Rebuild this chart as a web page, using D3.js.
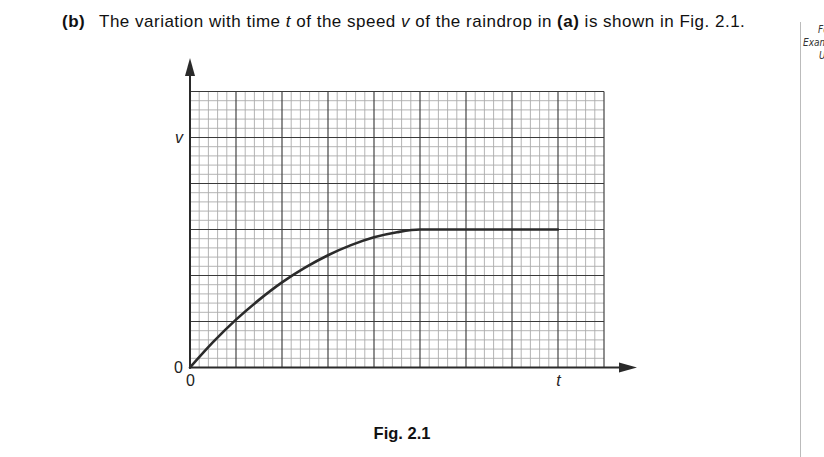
<!DOCTYPE html>
<html>
<head>
<meta charset="utf-8">
<script src="https://cdn.jsdelivr.net/npm/d3@7"></script>
<style>
  html, body { margin: 0; padding: 0; background: #fff; }
  svg { display: block; font-family: "Liberation Sans", Arial, sans-serif; }
</style>
</head>
<body>
<svg id="chart" width="824" height="457"></svg>
<script>
// ---- data (grid units: 1 = one major square) ----
const timeValues  = [0, 0.5, 1, 1.5, 2, 2.5, 3, 3.5, 4, 4.5, 5, 6, 7, 8];
const speedValues = [0, 0.55, 1.04, 1.47, 1.85, 2.17, 2.44, 2.66, 2.83, 2.94, 3, 3, 3, 3];
const xTickValues = [0, 8];
const xTickLabels = ["0", "t"];
const yTickValues = [0, 5];
const yTickLabels = ["0", "v"];
const xDomain = [0, 9];
const yDomain = [0, 6];

const svg = d3.select("#chart");

const x = d3.scaleLinear().domain(xDomain).range([190, 604]);
const y = d3.scaleLinear().domain(yDomain).range([367.5, 91.5]);

// ---- title ----
const title = svg.append("text").attr("x", 62).attr("y", 27).attr("font-size", 17)
  .attr("letter-spacing", 0.5).attr("fill", "#111");
title.append("tspan").attr("font-weight", "bold").text("(b)");
title.append("tspan").attr("x", 99).text("The variation with time ");
title.append("tspan").attr("font-style", "italic").text("t");
title.append("tspan").text(" of the speed ");
title.append("tspan").attr("font-style", "italic").text("v");
title.append("tspan").text(" of the raindrop in ");
title.append("tspan").attr("font-weight", "bold").text("(a)");
title.append("tspan").text(" is shown in Fig. 2.1.");

// ---- examiner margin ----
svg.append("line").attr("x1", 800.5).attr("x2", 800.5).attr("y1", 22).attr("y2", 457)
  .attr("stroke", "#bbb").attr("stroke-width", 1);
const margin = svg.append("g").attr("font-size", 10).attr("font-style", "italic").attr("fill", "#333")
  .attr("font-family", "'Liberation Sans Narrow', 'DejaVu Sans Condensed', sans-serif");
margin.append("text").attr("x", 818).attr("y", 33).text("For");
margin.append("text").attr("x", 803).attr("y", 46).text("Examiner's");
margin.append("text").attr("x", 819).attr("y", 59).text("Use");

// ---- grid ----
const grid = svg.append("g");
const minorX = d3.range(0, 9.001, 0.2).filter(d => Math.abs(d - Math.round(d)) > 1e-6);
const minorY = d3.range(0, 6.001, 0.2).filter(d => Math.abs(d - Math.round(d)) > 1e-6);
grid.selectAll(".mx").data(minorX).join("line")
  .attr("x1", d => x(d)).attr("x2", d => x(d)).attr("y1", y(0)).attr("y2", y(6))
  .attr("stroke", "#ababab").attr("stroke-width", 0.9);
grid.selectAll(".my").data(minorY).join("line")
  .attr("y1", d => y(d)).attr("y2", d => y(d)).attr("x1", x(0)).attr("x2", x(9))
  .attr("stroke", "#ababab").attr("stroke-width", 0.9);
grid.selectAll(".Mx").data(d3.range(1, 10)).join("line")
  .attr("x1", d => x(d)).attr("x2", d => x(d)).attr("y1", y(0)).attr("y2", y(6))
  .attr("stroke", "#444").attr("stroke-width", 1.2);
grid.selectAll(".My").data(d3.range(1, 7)).join("line")
  .attr("y1", d => y(d)).attr("y2", d => y(d)).attr("x1", x(0)).attr("x2", x(9))
  .attr("stroke", "#3a3a3a").attr("stroke-width", 1.2);

// ---- axes ----
const axisColor = "#2a2a2a";
svg.append("line").attr("x1", x(0)).attr("x2", x(0)).attr("y1", y(0) + 1).attr("y2", 72)
  .attr("stroke", axisColor).attr("stroke-width", 2);
svg.append("path").attr("d", `M${x(0)},58 L${x(0) - 5},76 L${x(0) + 5},76 Z`).attr("fill", axisColor);
svg.append("line").attr("x1", x(0) - 1).attr("x2", 624).attr("y1", y(0)).attr("y2", y(0))
  .attr("stroke", axisColor).attr("stroke-width", 2);
svg.append("path").attr("d", `M637,${y(0)} L619,${y(0) - 5} L619,${y(0) + 5} Z`).attr("fill", axisColor);

// tick labels via d3 axes (no tick lines / domain)
const yAxis = d3.axisLeft(y).tickValues(yTickValues).tickSize(0).tickPadding(7)
  .tickFormat((d, i) => yTickLabels[i]);
const gy = svg.append("g").attr("transform", `translate(${x(0)},0)`).call(yAxis);
gy.select(".domain").remove();
gy.selectAll("text").attr("font-size", 16).attr("fill", "#222")
  .attr("font-family", "'Liberation Sans', Arial, sans-serif")
  .attr("font-style", (d, i) => i === 1 ? "italic" : "normal");

const xAxis = d3.axisBottom(x).tickValues(xTickValues).tickSize(0).tickPadding(7)
  .tickFormat((d, i) => xTickLabels[i]);
const gx = svg.append("g").attr("transform", `translate(0,${y(0)})`).call(xAxis);
gx.select(".domain").remove();
gx.selectAll("text").attr("font-size", 16).attr("fill", "#222")
  .attr("font-family", "'Liberation Sans', Arial, sans-serif")
  .attr("font-style", (d, i) => i === 1 ? "italic" : "normal");

// ---- curve ----
const pts = timeValues.map((t, i) => [t, speedValues[i]]);
const line = d3.line().x(d => x(d[0])).y(d => y(d[1])).curve(d3.curveMonotoneX);
svg.append("path").attr("d", line(pts)).attr("fill", "none")
  .attr("stroke", "#2b2b2b").attr("stroke-width", 2.6).attr("stroke-linecap", "round");

// ---- caption ----
svg.append("text").attr("x", 402).attr("y", 439).attr("text-anchor", "middle")
  .attr("font-size", 16.5).attr("font-weight", "bold").attr("fill", "#111").text("Fig. 2.1");
</script>
</body>
</html>
